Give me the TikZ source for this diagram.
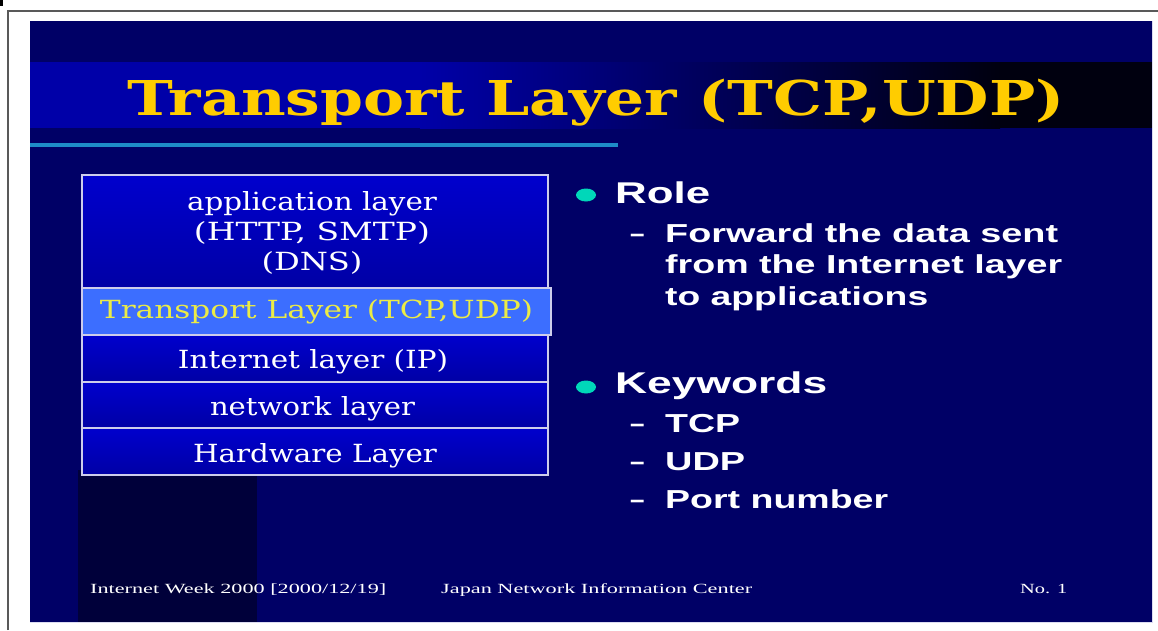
\documentclass[tikz,border=0pt]{standalone}
\usepackage{fontspec}
\usepackage{graphicx}
\usetikzlibrary{shapes.geometric}
\setmainfont{DejaVu Serif}
\newfontfamily\sansf{Liberation Sans}
\newfontfamily\footf{Liberation Serif}
\newcommand\fitw[2]{\resizebox{#1}{\height}{#2}}
\definecolor{navy}{RGB}{0,0,102}
\definecolor{bandblue}{RGB}{0,0,168}
\definecolor{bandmid}{RGB}{0,0,95}
\definecolor{banddark}{RGB}{0,0,15}
\definecolor{stripe}{RGB}{0,0,58}
\definecolor{gold}{RGB}{255,204,0}
\definecolor{cyanline}{RGB}{30,140,200}
\definecolor{tealdot}{RGB}{0,215,185}
\definecolor{boxtop}{RGB}{0,0,205}
\definecolor{boxmid}{RGB}{10,10,255}
\definecolor{boxbot}{RGB}{0,0,165}
\definecolor{tpfill}{RGB}{60,110,255}
\definecolor{tptext}{RGB}{235,235,70}
\definecolor{edge}{RGB}{205,205,235}
\begin{document}
\begin{tikzpicture}[x=1pt,y=-1pt,
  layerbox/.style={draw=edge, line width=1.6pt, inner sep=0pt,
    top color=boxtop, middle color=boxmid, bottom color=boxbot},
  tpbox/.style={draw=edge, line width=1.6pt, inner sep=0pt, fill=tpfill},
  layertext/.style={anchor=base, inner sep=0pt, text=white, font=\fontsize{25}{30}\selectfont},
  bigitem/.style={anchor=base west, inner sep=0pt, text=white, font=\sansf\bfseries\fontsize{30}{36}\selectfont},
  subitem/.style={anchor=base west, inner sep=0pt, text=white, font=\sansf\bfseries\fontsize{26}{31}\selectfont},
  bulletdot/.style={ellipse, fill=tealdot, minimum width=20pt, minimum height=13pt, inner sep=0pt},
  foottext/.style={anchor=base west, inner sep=0pt, text=white, font=\footf\fontsize{14}{16}\selectfont}]
\useasboundingbox (0,0) rectangle (1158,630);
\fill[white] (0,0) rectangle (1158,630);
% outer frame
\draw[black!65, line width=2pt] (8,630) -- (8,10.5) -- (1158,10.5);
\fill[black] (0,0) rectangle (3,6);
% slide
\fill[navy] (30,21) rectangle (1152,622);
\draw[edge!70, line width=0.8pt] (30,622) -- (1152,622) -- (1152,21);
\fill[stripe] (78,470) rectangle (257,622);
% title band
\fill[bandblue] (30,62) rectangle (420,128);
\shade[left color=bandblue, right color=bandmid] (420,62) rectangle (690,128);
\shade[left color=bandmid, right color=banddark] (690,62) rectangle (1000,128);
\fill[banddark] (1000,62) rectangle (1152,128);
\node[anchor=base, inner sep=0pt, text=gold, font=\bfseries\fontsize{48}{56}\selectfont] (title) at (596,115) {\fitw{937pt}{Transport Layer (TCP,UDP)}};
\draw[cyanline, line width=3.5pt] (30,145) -- (618,145);
% layer stack
\node[layerbox, minimum width=466pt, minimum height=113pt] (app) at (315,231.5) {};
\node[layerbox, minimum width=466pt, minimum height=47pt] (inet) at (315,358.5) {};
\node[layerbox, minimum width=466pt, minimum height=46pt] (net) at (315,405) {};
\node[layerbox, minimum width=466pt, minimum height=47pt] (hw) at (315,451.5) {};
\node[tpbox, minimum width=469pt, minimum height=47pt] (tp) at (316.5,311.5) {};
\node[layertext] (appt1) at (312,210) {\fitw{250pt}{application layer}};
\node[layertext] (appt2) at (312,240) {\fitw{236pt}{(HTTP, SMTP)}};
\node[layertext] (appt3) at (312,270) {\fitw{101pt}{(DNS)}};
\node[layertext, text=tptext] (tpt) at (316.5,318) {\fitw{433pt}{Transport Layer (TCP,UDP)}};
\node[layertext] (inett) at (313,368) {\fitw{270pt}{Internet layer (IP)}};
\node[layertext] (nett) at (312.5,415) {\fitw{205pt}{network layer}};
\node[layertext] (hwt) at (315,462) {\fitw{244pt}{Hardware Layer}};
% right column
\node[bulletdot] (b1) at (586,195) {};
\node[bigitem] (role) at (615,203) {\fitw{95pt}{Role}};
\node[subitem] (d1) at (630,242) {–};
\node[subitem] (r1) at (665,242) {\fitw{393pt}{Forward the data sent}};
\node[subitem] (r2) at (665,273) {\fitw{397pt}{from the Internet layer}};
\node[subitem] (r3) at (665,305) {\fitw{263pt}{to applications}};
\node[bulletdot] (b2) at (586,387) {};
\node[bigitem] (kw) at (615,393) {\fitw{212pt}{Keywords}};
\node[subitem] (d2) at (630,432) {–};
\node[subitem] (k1) at (665,432) {\fitw{75pt}{TCP}};
\node[subitem] (d3) at (630,470) {–};
\node[subitem] (k2) at (665,470) {\fitw{80pt}{UDP}};
\node[subitem] (d4) at (630,508) {–};
\node[subitem] (k3) at (665,508) {\fitw{223pt}{Port number}};
% footer
\node[foottext] (f1) at (90,593) {\fitw{296pt}{Internet Week 2000 [2000/12/19]}};
\node[foottext] (f2) at (441,593) {\fitw{311pt}{Japan Network Information Center}};
\node[foottext] (f3) at (1020,593) {\fitw{47pt}{No. 1}};
\end{tikzpicture}
\end{document}
